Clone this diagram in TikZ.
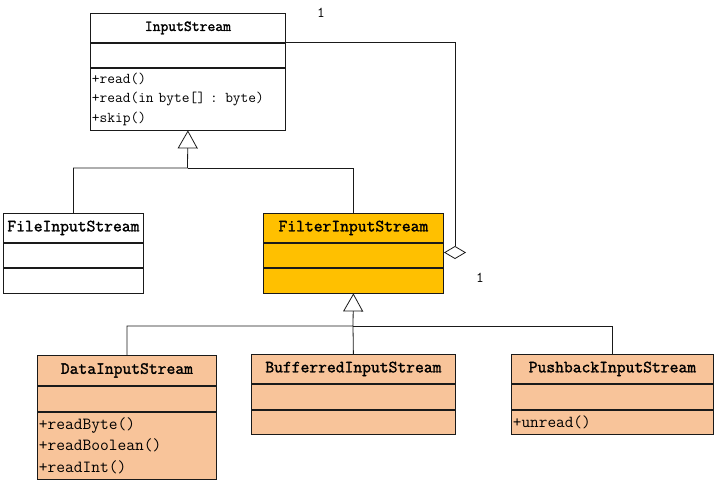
\documentclass[tikz,border=0pt]{standalone}
\usepackage{fontspec}
\usetikzlibrary{arrows.meta,positioning}
\newfontfamily\umlfont{Latin Modern Mono}[WordSpace={1,0,0}]
\newfontfamily\umlbold{Latin Modern Mono}[FakeBold=1.6,WordSpace={1,0,0}]
\definecolor{Ink}{HTML}{1A1A1A}
\definecolor{Amber}{HTML}{FFC000}
\definecolor{Peach}{HTML}{F8C49A}
\tikzset{
  box/.style={draw=Ink,line width=.8pt,inner sep=0pt,fill=white},
  hdr/.style={box,anchor=north west,font=\umlbold\fontsize{17.1}{20}\selectfont},
  cmp/.style={box,anchor=north},
  ops/.style={cmp,align=left,inner xsep=1.5pt,font=\umlfont\fontsize{17}{21.5}\selectfont},
  filt/.style={fill=Amber},
  deco/.style={fill=Peach},
  link/.style={draw=Ink,line width=.8pt},
  gen/.style={link,-{Triangle[open,length=18pt,width=20pt]}},
  agg/.style={link,-{Diamond[open,length=13pt,width=22pt]}},
  mult/.style={font=\umlfont\fontsize{15}{18}\selectfont,inner sep=0pt}
}
\begin{document}
\begin{tikzpicture}[x=1pt,y=-1pt]
  \useasboundingbox (0,0) rectangle (718,482);
  % abstract base
  \node[hdr,minimum width=195pt,minimum height=29pt,font=\umlbold\fontsize{15.2}{18}\selectfont] (is) at (90,13) {InputStream};
  \node[cmp,minimum width=195pt,minimum height=24pt] (isA) at (is.south) {};
  \node[ops,text width=192pt,minimum height=62pt,font=\umlfont\fontsize{15}{19.5}\selectfont] (isM) at (isA.south) {+read()\\+read(in byte[] : byte)\\+skip()};
  % direct subclasses
  \node[hdr,minimum width=140pt,minimum height=29pt] (fis) at (3,213) {FileInputStream};
  \node[cmp,minimum width=140pt,minimum height=24pt] (fisA) at (fis.south) {};
  \node[cmp,minimum width=140pt,minimum height=25pt] (fisM) at (fisA.south) {};
  \node[hdr,filt,minimum width=180pt,minimum height=29pt] (fls) at (263,213) {FilterInputStream};
  \node[cmp,filt,minimum width=180pt,minimum height=24pt] (flsA) at (fls.south) {};
  \node[cmp,filt,minimum width=180pt,minimum height=25pt] (flsM) at (flsA.south) {};
  % decorators
  \node[hdr,deco,minimum width=179pt,minimum height=30pt] (dis) at (37,355) {DataInputStream};
  \node[cmp,deco,minimum width=179pt,minimum height=25pt] (disA) at (dis.south) {};
  \node[ops,deco,text width=176pt,minimum height=67pt] (disM) at (disA.south) {+readByte()\\+readBoolean()\\+readInt()};
  \node[hdr,deco,minimum width=204pt,minimum height=29pt] (bis) at (251,354) {BufferredInputStream};
  \node[cmp,deco,minimum width=204pt,minimum height=25pt] (bisA) at (bis.south) {};
  \node[cmp,deco,minimum width=204pt,minimum height=24pt] (bisM) at (bisA.south) {};
  \node[hdr,deco,minimum width=202pt,minimum height=29pt] (pis) at (511,354) {PushbackInputStream};
  \node[cmp,deco,minimum width=202pt,minimum height=25pt] (pisA) at (pis.south) {};
  \node[ops,deco,text width=199pt,minimum height=24pt,font=\umlfont\fontsize{16.8}{20}\selectfont] (pisM) at (pisA.south) {+unread()};
  % inheritance
  \coordinate (j1) at (187.5,168);
  \draw[gen] (fis.north) |- (j1) -- (isM.south);
  \draw[link] (fls.north) |- (j1);
  \coordinate (j2) at (353,326);
  \draw[gen] (dis.north) |- (j2) -- (flsM.south);
  \draw[link] (bis.north) -- (j2);
  \draw[link] (pis.north) |- (j2);
  % aggregation
  \coordinate (aggend) at (455,259);
  \draw[agg] (is.south east) -| (aggend);
  \node[mult] (m1) at (321,13) {1};
  \node[mult] (m2) at (480,278) {1};
\end{tikzpicture}
\end{document}
